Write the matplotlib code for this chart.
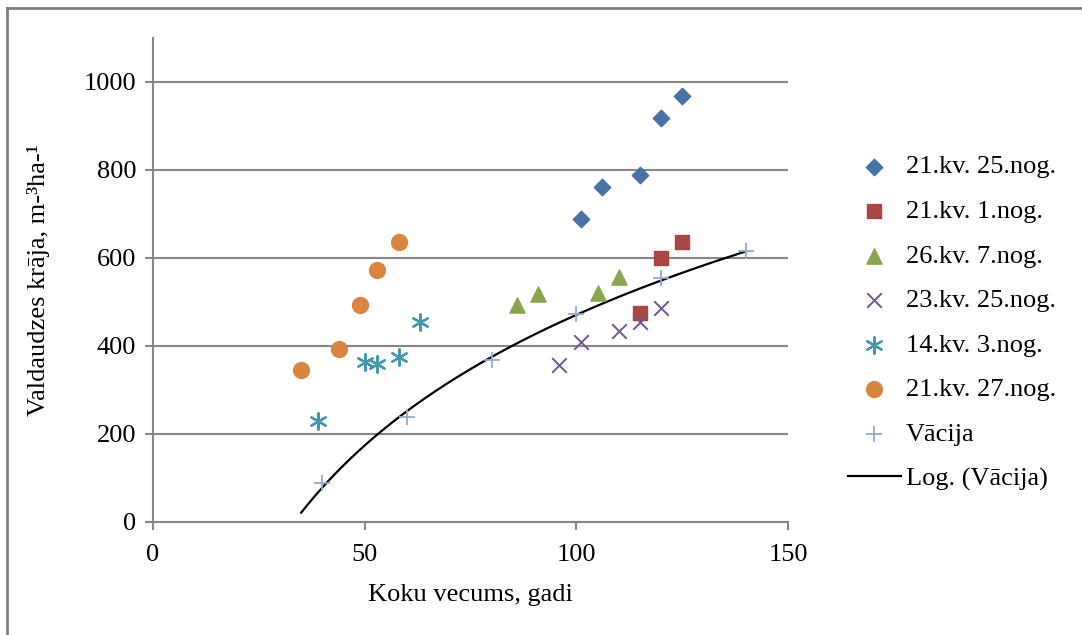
import numpy as np
import matplotlib
matplotlib.use("Agg")
import matplotlib.pyplot as plt
from matplotlib.lines import Line2D

plt.rcParams['font.family'] = ['Liberation Serif', 'DejaVu Serif']

# Data
s1_name = "21.kv. 25.nog."
s1_x = [101, 106, 115, 120, 125]
s1_y = [689, 761, 789, 918, 968]

s2_name = "21.kv. 1.nog."
s2_x = [115, 120, 125]
s2_y = [475, 600, 636]

s3_name = "26.kv. 7.nog."
s3_x = [86, 91, 105, 110]
s3_y = [493, 518, 520, 557]

s4_name = "23.kv. 25.nog."
s4_x = [96, 101, 110, 115, 120]
s4_y = [357, 409, 434, 455, 486]

s5_name = "14.kv. 3.nog."
s5_x = [39, 50, 53, 58, 63]
s5_y = [230, 364, 359, 375, 455]

s6_name = "21.kv. 27.nog."
s6_x = [35, 44, 49, 53, 58]
s6_y = [345, 393, 493, 573, 636]

s7_name = "Vācija"
s7_x = [40, 60, 80, 100, 120, 140]
s7_y = [89, 239, 368, 473, 555, 616]

trend_name = "Log. (Vācija)"
trend_range = [35, 140]

FS = 19

fig = plt.figure(figsize=(10.82, 6.35), dpi=100)
ax = fig.add_axes([153/1082, 1-522/635, (788-153)/1082, (522-38)/635])

ax.scatter(s1_x, s1_y, marker='D', s=70, color='#4572A7', label=s1_name, zorder=3)
ax.scatter(s2_x, s2_y, marker='s', s=110, color='#AA4643', label=s2_name, zorder=3)
ax.scatter(s3_x, s3_y, marker='^', s=120, color='#89A54E', label=s3_name, zorder=3)
ax.scatter(s4_x, s4_y, marker='x', s=110, color='#71588F', linewidths=1.4, label=s4_name, zorder=3)
ax.scatter(s5_x, s5_y, marker=(6, 2, 0), s=140, color='#4198AF', linewidths=1.6, label=s5_name, zorder=3)
ax.scatter(s6_x, s6_y, marker='o', s=130, color='#DB843D', label=s6_name, zorder=3)
ax.scatter(s7_x, s7_y, marker='+', s=120, color='#93A9CF', linewidths=1.3, label=s7_name, zorder=3)

# Logarithmic trendline fitted to Vācija
a, b = np.polyfit(np.log(s7_x), s7_y, 1)
xt = np.linspace(trend_range[0], trend_range[1], 200)
ax.plot(xt, a*np.log(xt) + b, color='black', lw=1.6, label=trend_name, zorder=2)

ax.set_xlim(0, 150)
ax.set_ylim(0, 1100)
ax.set_xticks([0, 50, 100, 150])
ax.set_yticks([0, 200, 400, 600, 800, 1000])
ax.grid(axis='y', color='#868686', lw=1.5)
ax.set_axisbelow(True)
for s in ['top', 'right']:
    ax.spines[s].set_visible(False)
for s in ['left', 'bottom']:
    ax.spines[s].set_color('#868686')
    ax.spines[s].set_linewidth(1.5)
ax.tick_params(axis='both', colors='#868686', length=6, width=1.5, labelsize=FS, labelcolor='black', pad=6)
ax.tick_params(axis='x', pad=10)

ax.set_xlabel("Koku vecums, gadi", fontsize=FS, labelpad=13)
ax.set_ylabel("Valdaudzes krāja, m-³ha-¹", fontsize=FS)
ax.yaxis.set_label_coords((50-153)/635, 0.5)

leg = fig.legend(loc='upper left', bbox_to_anchor=(848/1082, 1-155/635), frameon=False, fontsize=FS,
                 labelspacing=0.80, handlelength=2.0, handletextpad=0.2, borderaxespad=0, borderpad=0)

# Partial border (left and top)
fig.add_artist(Line2D([7/1082, 7/1082], [0, 1-8/635], color='#808080', lw=2))
fig.add_artist(Line2D([7/1082, 1], [1-8/635, 1-8/635], color='#808080', lw=2))

fig.savefig("out.png", dpi=100)
